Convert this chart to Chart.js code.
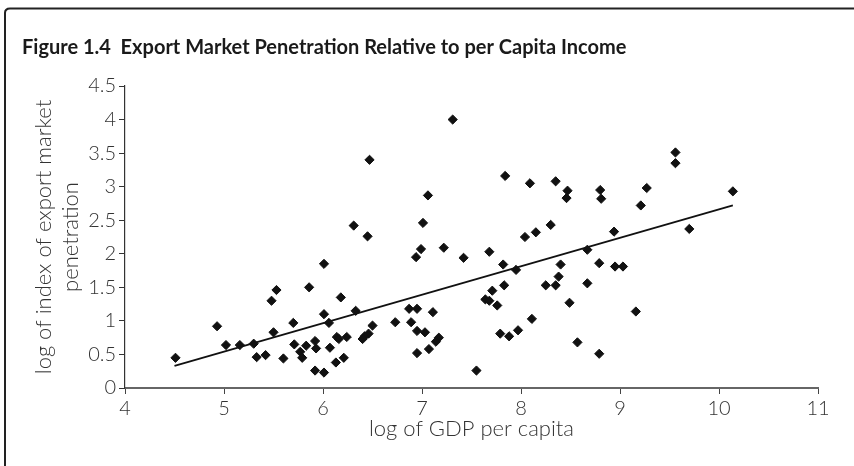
<!DOCTYPE html>
<html>
<head>
<meta charset="utf-8">
<script src="https://cdn.jsdelivr.net/npm/chart.js@4.4.1/dist/chart.umd.min.js"></script>
<style>
  html, body { margin: 0; padding: 0; background: #fff; }
  #wrap { width: 854px; height: 466px; }
</style>
</head>
<body>
<div id="wrap"><canvas id="chart" width="854" height="466"></canvas></div>
<script>
// log of GDP per capita (x) and log of export market penetration index (y)
const gdpLog = [
  4.51, 4.93, 5.02, 5.16, 5.30, 5.33, 5.42, 5.48, 5.53, 5.50,
  5.60, 5.70, 5.71, 5.77, 5.79, 5.83, 5.86, 5.92, 5.93, 5.92,
  6.01, 6.01, 6.06, 6.01, 6.07, 6.13, 6.14, 6.16, 6.18, 6.21,
  6.24, 7.31, 6.47, 7.84, 8.09, 8.35, 8.47, 8.46, 7.06, 6.31,
  7.01, 6.45, 8.04, 8.15, 8.30, 6.99, 6.94, 7.22, 7.42, 7.68,
  7.82, 7.95, 8.40, 8.38, 8.25, 8.35, 8.67, 8.67, 8.49, 8.57,
  8.11, 7.97, 7.88, 7.79, 7.83, 7.71, 7.64, 7.68, 7.76, 7.55,
  7.11, 6.95, 6.87, 6.89, 6.73, 6.95, 7.03, 7.17, 7.14, 7.07,
  6.95, 6.50, 6.46, 6.42, 6.40, 6.33, 9.56, 9.56, 8.80, 8.81,
  9.27, 9.21, 10.14, 8.94, 9.70, 8.79, 8.95, 9.03, 9.16, 8.79
];
const penetrationLog = [
  0.45, 0.92, 0.64, 0.64, 0.66, 0.46, 0.49, 1.30, 1.46, 0.83,
  0.44, 0.97, 0.65, 0.54, 0.45, 0.63, 1.50, 0.70, 0.59, 0.26,
  1.85, 1.10, 0.97, 0.23, 0.60, 0.38, 0.76, 0.73, 1.35, 0.45,
  0.76, 4.00, 3.40, 3.16, 3.05, 3.08, 2.94, 2.83, 2.87, 2.42,
  2.46, 2.26, 2.25, 2.32, 2.43, 2.07, 1.95, 2.09, 1.94, 2.03,
  1.84, 1.76, 1.84, 1.66, 1.53, 1.53, 2.06, 1.56, 1.27, 0.68,
  1.03, 0.86, 0.77, 0.81, 1.53, 1.45, 1.32, 1.30, 1.23, 0.26,
  1.13, 1.18, 1.18, 0.98, 0.98, 0.85, 0.83, 0.75, 0.69, 0.58,
  0.52, 0.93, 0.81, 0.77, 0.73, 1.15, 3.51, 3.35, 2.95, 2.82,
  2.98, 2.72, 2.93, 2.33, 2.37, 1.86, 1.81, 1.81, 1.14, 0.51
];
// fitted line end points
const trendX = [4.5, 10.14];
const trendY = [0.33, 2.72];

const xTicks = [4, 5, 6, 7, 8, 9, 10, 11];
const yTicks = [0, 0.5, 1, 1.5, 2, 2.5, 3, 3.5, 4, 4.5];

const titleText = 'Figure 1.4  Export Market Penetration Relative to per Capita Income';
const fontFamily = 'Lato, "Open Sans", sans-serif';

const points = gdpLog.map((x, i) => ({ x: x, y: penetrationLog[i] }));
const trend = trendX.map((x, i) => ({ x: x, y: trendY[i] }));

// frame and heading
const framePlugin = {
  id: 'frame',
  beforeDraw(chart) {
    const ctx = chart.ctx;
    ctx.save();
    ctx.fillStyle = '#fff';
    ctx.fillRect(0, 0, chart.width, chart.height);
    ctx.strokeStyle = '#222';
    ctx.lineWidth = 2;
    ctx.beginPath();
    ctx.moveTo(5, chart.height);
    ctx.lineTo(5, 13);
    ctx.quadraticCurveTo(5, 8.5, 10, 8.5);
    ctx.lineTo(chart.width, 8.5);
    ctx.stroke();
    ctx.fillStyle = '#1a1a1a';
    ctx.font = 'bold 20px ' + fontFamily;
    ctx.textBaseline = 'middle';
    ctx.fillText(titleText, 22, 48);
    ctx.restore();
  }
};

const ctx = document.getElementById('chart').getContext('2d');
const myChart = new Chart(ctx, {
  type: 'scatter',
  data: {
    datasets: [{
      label: 'Countries',
      data: points,
      pointStyle: 'rectRot',
      pointRadius: 4.6,
      pointBorderWidth: 1,
      backgroundColor: '#111',
      borderColor: '#111'
    }, {
      label: 'Trend',
      type: 'line',
      data: trend,
      borderColor: '#111',
      borderWidth: 1.8,
      pointRadius: 0,
      fill: false
    }]
  },
  options: {
    responsive: false,
    animation: false,
    layout: { padding: { top: 86, right: 36, left: 0, bottom: 0 } },
    plugins: {
      legend: { display: false },
      tooltip: { enabled: false }
    },
    scales: {
      x: {
        type: 'linear',
        min: 4,
        max: 11,
        afterFit(scale) { scale.height = 78; },
        afterBuildTicks(scale) { scale.ticks = xTicks.map(v => ({ value: v })); },
        border: { display: true, color: '#666', width: 2 },
        grid: { display: true, drawOnChartArea: false, drawTicks: true, tickLength: 6, color: '#444', tickColor: '#444' },
        ticks: {
          color: '#333', padding: 3, maxRotation: 0,
          font: { family: fontFamily, size: 20, weight: '300' },
          callback: v => String(v)
        },
        title: {
          display: true,
          text: 'log of GDP per capita',
          color: '#333',
          font: { family: fontFamily, size: 22, weight: '300', lineHeight: 1.2 },
          padding: { top: 0, bottom: 24 }
        }
      },
      y: {
        type: 'linear',
        min: 0,
        max: 4.5,
        afterFit(scale) { scale.width = 125; },
        afterBuildTicks(scale) { scale.ticks = yTicks.map(v => ({ value: v })); },
        border: { display: true, color: '#333', width: 1.2 },
        grid: { display: true, drawOnChartArea: false, drawTicks: true, tickLength: 6, color: '#333', tickColor: '#333' },
        ticks: {
          color: '#333', padding: 3,
          font: { family: fontFamily, size: 20, weight: '300' },
          callback: v => String(v)
        },
        title: {
          display: true,
          text: ['log of index of export market', 'penetration'],
          color: '#333',
          font: { family: fontFamily, size: 22, weight: '300', lineHeight: 1.2 },
          padding: { top: 31, bottom: 0 }
        }
      }
    }
  },
  plugins: [framePlugin]
});
</script>
</body>
</html>
